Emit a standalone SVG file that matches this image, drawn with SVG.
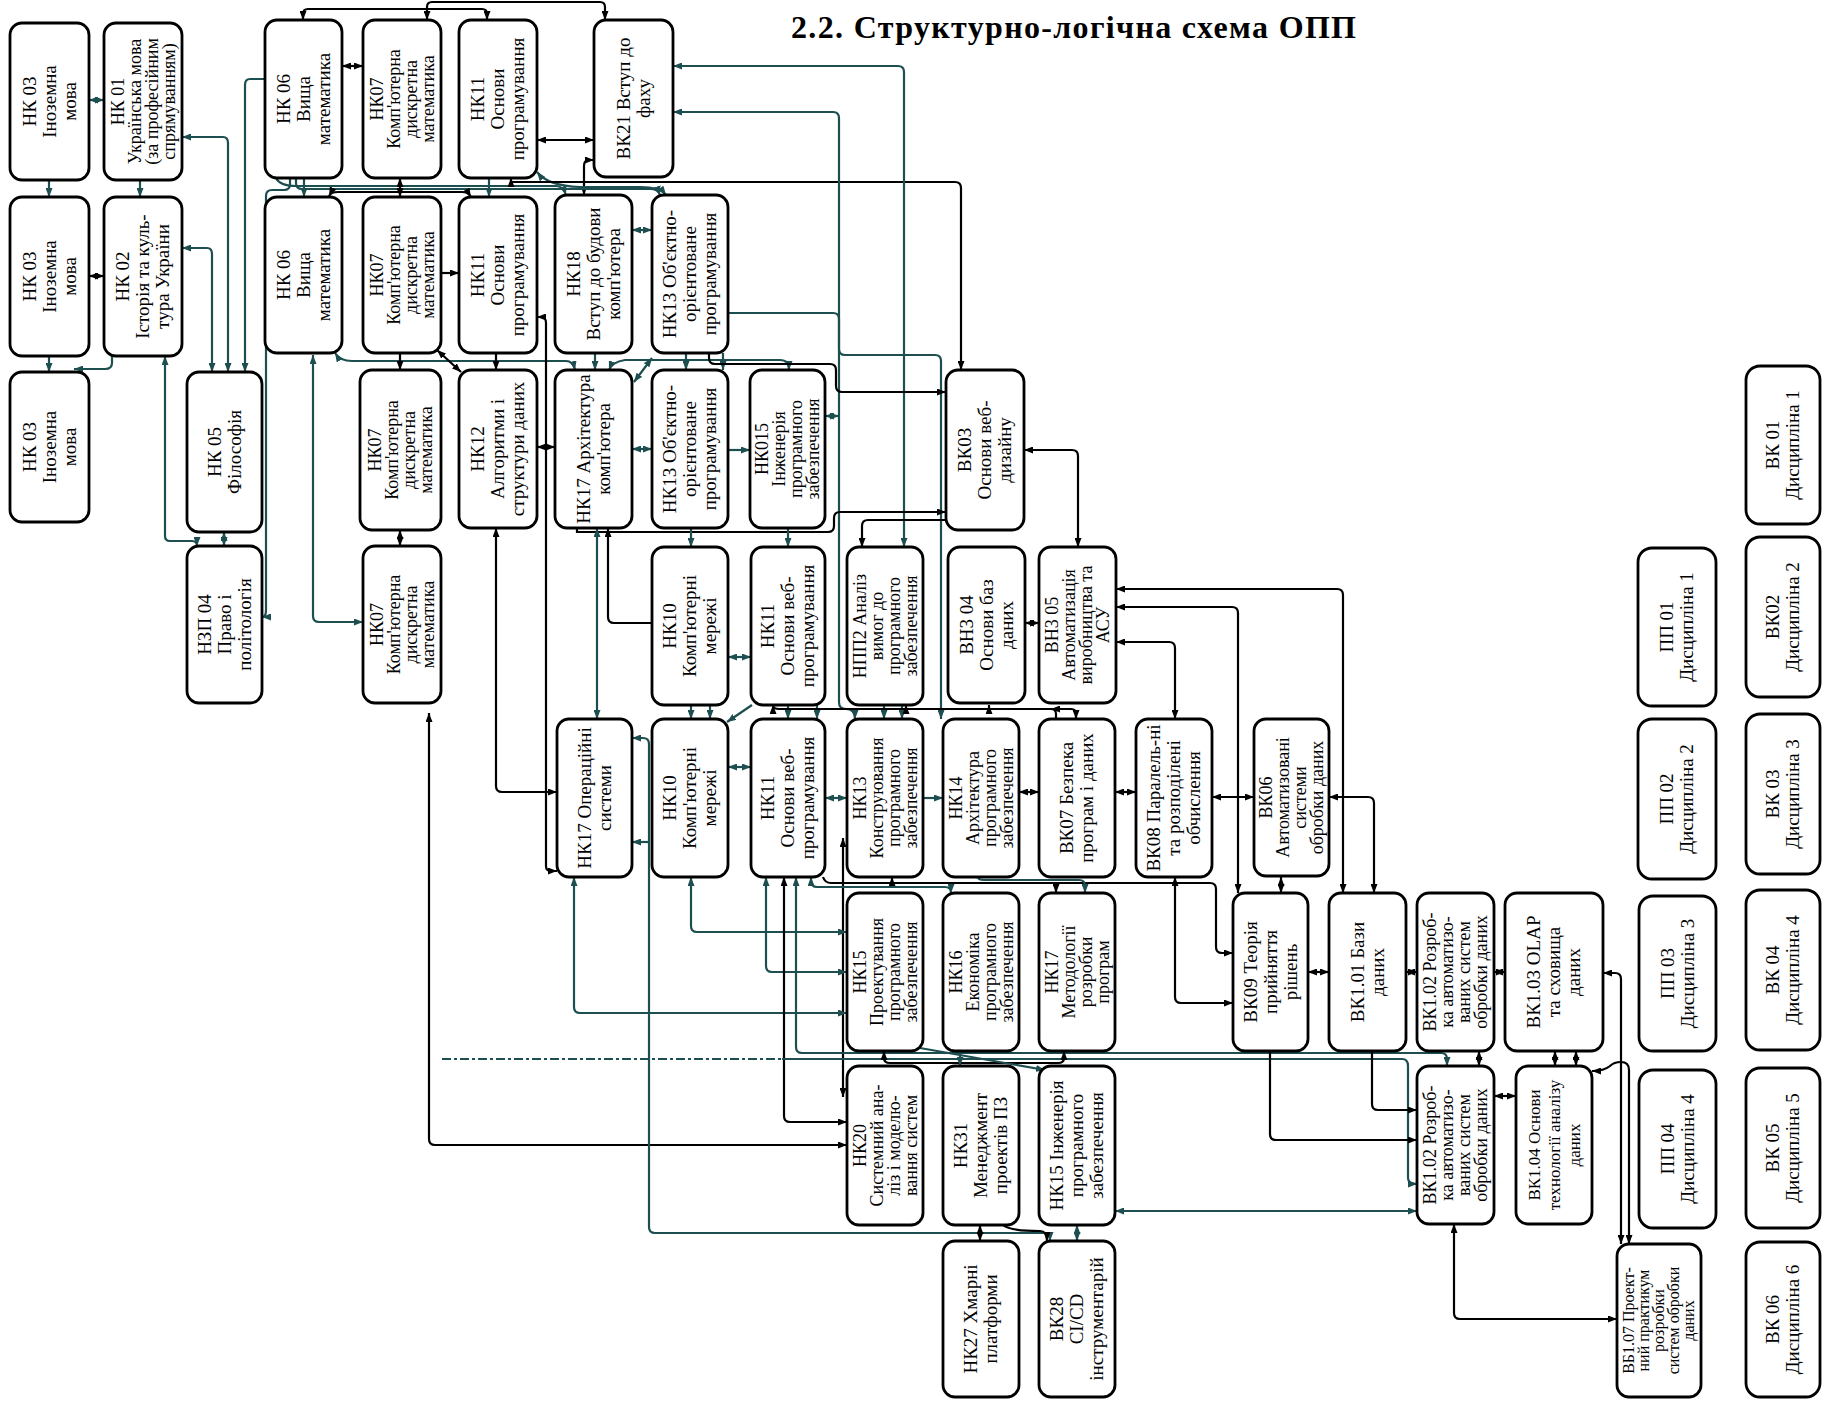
<svg xmlns="http://www.w3.org/2000/svg" width="1825" height="1404" viewBox="0 0 1825 1404">
<style>
.n rect{fill:#fff;stroke:#000;stroke-width:2.8}
.n text{font-family:"Liberation Serif","Times New Roman",serif;font-size:19px;text-anchor:middle;fill:#000}
.n text.s{font-size:18px}
.c path{fill:none;stroke-width:2.2}
.K{stroke:#000;marker-end:url(#ak)}
.KB{stroke:#000;marker-start:url(#ak);marker-end:url(#ak)}
.T{stroke:#1d4e50;marker-end:url(#at)}
.TB{stroke:#1d4e50;marker-start:url(#at);marker-end:url(#at)}
.TD{stroke:#1d4e50;stroke-dasharray:9 3 3 3}
.title{font-family:"Liberation Serif","Times New Roman",serif;font-weight:bold;font-size:32px}
</style>
<defs>
<marker id="ak" markerUnits="userSpaceOnUse" markerWidth="9" markerHeight="7" refX="9" refY="3.5" orient="auto-start-reverse"><path d="M0,0 L9,3.5 L0,7 z" fill="#000"/></marker>
<marker id="at" markerUnits="userSpaceOnUse" markerWidth="9" markerHeight="7" refX="9" refY="3.5" orient="auto-start-reverse"><path d="M0,0 L9,3.5 L0,7 z" fill="#1d4e50"/></marker>
</defs>
<rect width="1825" height="1404" fill="#fff"/>
<text class="title" x="791" y="38" textLength="565">2.2. Структурно-логічна схема ОПП</text>

<g id="connectors" class="c">
<path class="KB" d="M303,20 V14 Q303,9 308,9 H482 Q487,9 487,14 V20"/>
<path class="KB" d="M427,20 V7 Q427,2 432,2 H600 Q605,2 605,7 V20"/>
<path class="KB" d="M342,66 H363"/>
<path class="KB" d="M537,140 H594"/>
<path class="KB" d="M594,160 H589 Q584,160 584,166 V195"/>
<path class="T" d="M49,180 V197"/>
<path class="T" d="M49,356 V372"/>
<path class="TB" d="M89,100 H104"/>
<path class="T" d="M140,180 V197"/>
<path class="KB" d="M89,276 H104"/>
<path class="T" d="M112,356 V363 Q112,369 105,369 H74"/>
<path class="TB" d="M182,137 H223 Q228,137 228,143 V372"/>
<path class="TB" d="M182,248 H207 Q212,248 212,254 V372"/>
<path class="T" d="M265,79 H250 Q245,79 245,85 V372"/>
<path class="T" d="M290,178 V184 Q290,190 284,190 H272 Q266,190 266,196 V610 Q266,617 262,617"/>
<path class="TB" d="M165,356 V536 Q165,541 170,541 H192 Q197,541 197,546"/>
<path class="TB" d="M224,532 V546"/>
<path class="TB" d="M313,355 V616 Q313,622 319,622 H363"/>
<path class="KB" d="M400,530 V546"/>
<path class="KB" d="M429,713 V1139 Q429,1145 435,1145 H847"/>
<path class="T" d="M276,178 Q280,186 296,186 H556 Q563,186 566,195"/>
<path class="T" d="M296,178 V183 Q296,189 302,189 H650 Q658,189 660,195"/>
<path class="TB" d="M537,172 Q548,186 580,187 H640 Q660,187 666,195"/>
<path class="T" d="M304,178 V197"/>
<path class="KB" d="M400,178 V197"/>
<path class="T" d="M489,178 V197"/>
<path class="KB" d="M329,196 Q331,192 338,192 H462 Q468,192 471,197"/>
<path class="K" d="M441,273 H459"/>
<path class="TB" d="M632,230 H652"/>
<path class="KB" d="M511,178 V182 H955 Q961,182 961,188 V370"/>
<path class="TB" d="M673,112 H833 Q839,112 839,118 V702 Q839,709 846,709 Q855,709 855,719"/>
<path class="TB" d="M673,66 H898 Q904,66 904,72 V547"/>
<path class="T" d="M728,313 H833 Q839,313 839,319 V349 Q839,355 845,355 H935 Q941,355 941,361 V719"/>
<path class="TB" d="M825,416 H839"/>
<path class="TB" d="M335,353 Q340,361 352,361 H566 Q573,361 575,370"/>
<path class="K" d="M400,353 V370"/>
<path class="KB" d="M437,350 L461,372"/>
<path class="K" d="M496,353 V370"/>
<path class="T" d="M595,353 V370"/>
<path class="TB" d="M652,358 L634,382"/>
<path class="TB" d="M609,370 Q612,362 625,360 H780 Q789,360 789,370"/>
<path class="T" d="M686,353 V370"/>
<path class="T" d="M723,353 V370"/>
<path class="K" d="M709,353 V358 Q709,364 715,364 H830 Q836,364 836,370 V386 Q836,392 842,392 H946"/>
<path class="KB" d="M537,447 H555"/>
<path class="TB" d="M632,449 H652"/>
<path class="T" d="M728,450 H750"/>
<path class="KB" d="M537,317 H541 Q546,317 546,323 V866 Q546,871 551,871 H557"/>
<path class="KB" d="M496,528 V786 Q496,792 502,792 H557"/>
<path class="K" d="M577,528 V532 H828 Q834,532 834,526 V518 Q834,512 840,512 H946"/>
<path class="K" d="M946,520 H868 Q862,520 862,526 V547"/>
<path class="KB" d="M1024,450 H1072 Q1078,450 1078,456 V547"/>
<path class="TB" d="M597,528 V719"/>
<path class="K" d="M652,623 H614 Q608,623 608,617 V528"/>
<path class="T" d="M691,528 V547"/>
<path class="T" d="M788,528 V547"/>
<path class="TB" d="M728,657 H751"/>
<path class="KB" d="M1025,623 H1039"/>
<path class="KB" d="M1116,589 H1337 Q1343,589 1343,595 V893"/>
<path class="KB" d="M1116,607 H1232 Q1238,607 1238,613 V893"/>
<path class="KB" d="M1116,642 H1169 Q1175,642 1175,648 V719"/>
<path class="T" d="M691,705 V719"/>
<path class="T" d="M710,705 V719"/>
<path class="T" d="M752,705 L727,722"/>
<path class="T" d="M788,705 V719"/>
<path class="T" d="M817,705 V719"/>
<path class="T" d="M884,705 V719"/>
<path class="T" d="M902,705 V719"/>
<path class="KB" d="M1076,719 V714 Q1076,709 1071,709 H779 Q773,709 773,705"/>
<path class="K" d="M1056,719 V714 Q1056,709 1051,709"/>
<path class="K" d="M906,713 V705"/>
<path class="K" d="M989,713 V705"/>
<path class="TB" d="M632,738 H643 Q649,738 649,744 V1227 Q649,1233 655,1233 H1044 Q1050,1233 1050,1241"/>
<path class="T" d="M649,842 H632"/>
<path class="TB" d="M728,767 H751"/>
<path class="TB" d="M825,798 H847"/>
<path class="T" d="M923,798 H943"/>
<path class="KB" d="M1019,792 H1039"/>
<path class="KB" d="M1115,792 H1136"/>
<path class="KB" d="M1212,797 H1254"/>
<path class="KB" d="M1329,797 H1368 Q1374,797 1374,803 V893"/>
<path class="KB" d="M1281,877 V893"/>
<path class="KB" d="M843,838 V1097"/>
<path class="TB" d="M574,877 V1007 Q574,1013 580,1013 H847"/>
<path class="TB" d="M691,877 V926 Q691,932 697,932 H847"/>
<path class="TB" d="M766,877 V966 Q766,972 772,972 H847"/>
<path class="KB" d="M784,877 V1116 Q784,1122 790,1122 H847"/>
<path class="TB" d="M796,877 V1047 Q796,1053 802,1053 H1441 Q1447,1053 1447,1059 V1066"/>
<path class="TB" d="M811,877 V881 Q811,887 817,887 H945 Q951,887 951,893"/>
<path class="K" d="M823,877 Q825,883 831,883 H1210 Q1216,883 1216,889 V947 Q1216,953 1222,953 H1233"/>
<path class="K" d="M1056,883 V893"/>
<path class="K" d="M892,883 V877"/>
<path class="T" d="M978,877 Q978,880 984,880 H1079 Q1085,880 1085,886 V893"/>
<path class="KB" d="M1175,877 V997 Q1175,1003 1181,1003 H1233"/>
<path class="TD" d="M442,1059 H782"/>
<path class="T" d="M782,1059 H1402 Q1408,1059 1408,1066 V1178 Q1408,1184 1417,1184"/>
<path class="KB" d="M1308,972 H1329"/>
<path class="KB" d="M1406,972 H1417"/>
<path class="KB" d="M1494,972 H1505"/>
<path class="KB" d="M1479,1051 V1066"/>
<path class="KB" d="M1555,1051 V1066"/>
<path class="KB" d="M1576,1051 V1066"/>
<path class="KB" d="M1603,973 H1615 Q1621,973 1621,979 V1244"/>
<path class="KB" d="M1592,1071 Q1604,1071 1610,1066 Q1614,1062 1621,1062 Q1629,1062 1629,1070 V1244"/>
<path class="K" d="M1372,1051 V1104 Q1372,1110 1378,1110 H1417"/>
<path class="K" d="M1270,1051 V1134 Q1270,1140 1276,1140 H1417"/>
<path class="KB" d="M884,1051 V1058 Q884,1063 890,1063 H1058 Q1064,1063 1064,1058 V1051"/>
<path class="T" d="M920,1048 L1045,1070"/>
<path class="T" d="M960,1051 V1066"/>
<path class="KB" d="M1494,1096 H1516"/>
<path class="TB" d="M1115,1211 H1417"/>
<path class="KB" d="M1454,1224 V1313 Q1454,1319 1460,1319 H1617"/>
<path class="KB" d="M980,1225 V1241"/>
<path class="TB" d="M1077,1225 V1241"/>
<path class="K" d="M1003,1225 Q1010,1231 1040,1231 Q1047,1231 1047,1241"/>
</g>

<g id="n_nk03a" class="n"><rect x="10" y="23" width="79" height="157" rx="12"/><text transform="translate(49.5,101.5) rotate(-90)"><tspan x="0" y="-14">НК 03</tspan><tspan x="0" y="6">Іноземна</tspan><tspan x="0" y="26">мова</tspan></text></g>
<g id="n_nk01" class="n"><rect x="104" y="23" width="78" height="157" rx="12"/><text class="s" transform="translate(143,101.5) rotate(-90)"><tspan x="0" y="-19.5">НК 01</tspan><tspan x="0" y="-2.5">Українська мова</tspan><tspan x="0" y="14.5">(за професійним</tspan><tspan x="0" y="31.5">спрямуванням)</tspan></text></g>
<g id="n_nk06a" class="n"><rect x="265" y="20" width="77" height="158" rx="12"/><text transform="translate(303.5,99) rotate(-90)"><tspan x="0" y="-14">НК 06</tspan><tspan x="0" y="6">Вища</tspan><tspan x="0" y="26">математика</tspan></text></g>
<g id="n_nk07a" class="n"><rect x="363" y="20" width="78" height="158" rx="12"/><text class="s" transform="translate(402,99) rotate(-90)"><tspan x="0" y="-19.5">НК07</tspan><tspan x="0" y="-2.5">Комп'ютерна</tspan><tspan x="0" y="14.5">дискретна</tspan><tspan x="0" y="31.5">математика</tspan></text></g>
<g id="n_nk11a" class="n"><rect x="459" y="20" width="78" height="158" rx="12"/><text transform="translate(498,99) rotate(-90)"><tspan x="0" y="-14">НК11</tspan><tspan x="0" y="6">Основи</tspan><tspan x="0" y="26">програмування</tspan></text></g>
<g id="n_vk21" class="n"><rect x="594" y="20" width="79" height="157" rx="12"/><text transform="translate(633.5,98.5) rotate(-90)"><tspan x="0" y="-4">ВК21 Вступ до</tspan><tspan x="0" y="16">фаху</tspan></text></g>

<g id="n_nk03b" class="n"><rect x="10" y="197" width="79" height="159" rx="12"/><text transform="translate(49.5,276.5) rotate(-90)"><tspan x="0" y="-14">НК 03</tspan><tspan x="0" y="6">Іноземна</tspan><tspan x="0" y="26">мова</tspan></text></g>
<g id="n_nk02" class="n"><rect x="104" y="197" width="78" height="159" rx="12"/><text transform="translate(143,276.5) rotate(-90)"><tspan x="0" y="-14">НК 02</tspan><tspan x="0" y="6">Історія та куль-</tspan><tspan x="0" y="26">тура України</tspan></text></g>
<g id="n_nk06b" class="n"><rect x="265" y="197" width="77" height="156" rx="12"/><text transform="translate(303.5,275) rotate(-90)"><tspan x="0" y="-14">НК 06</tspan><tspan x="0" y="6">Вища</tspan><tspan x="0" y="26">математика</tspan></text></g>
<g id="n_nk07b" class="n"><rect x="363" y="197" width="78" height="156" rx="12"/><text class="s" transform="translate(402,275) rotate(-90)"><tspan x="0" y="-19.5">НК07</tspan><tspan x="0" y="-2.5">Комп'ютерна</tspan><tspan x="0" y="14.5">дискретна</tspan><tspan x="0" y="31.5">математика</tspan></text></g>
<g id="n_nk11b" class="n"><rect x="459" y="197" width="78" height="156" rx="12"/><text transform="translate(498,275) rotate(-90)"><tspan x="0" y="-14">НК11</tspan><tspan x="0" y="6">Основи</tspan><tspan x="0" y="26">програмування</tspan></text></g>
<g id="n_nk18" class="n"><rect x="555" y="195" width="77" height="158" rx="12"/><text transform="translate(593.5,274) rotate(-90)"><tspan x="0" y="-14">НК18</tspan><tspan x="0" y="6">Вступ до будови</tspan><tspan x="0" y="26">комп'ютера</tspan></text></g>
<g id="n_nk13b" class="n"><rect x="652" y="195" width="76" height="158" rx="12"/><text transform="translate(690,274) rotate(-90)"><tspan x="0" y="-14">НК13 Об'єктно-</tspan><tspan x="0" y="6">орієнтоване</tspan><tspan x="0" y="26">програмування</tspan></text></g>

<g id="n_nk03c" class="n"><rect x="10" y="372" width="79" height="150" rx="12"/><text transform="translate(49.5,447) rotate(-90)"><tspan x="0" y="-14">НК 03</tspan><tspan x="0" y="6">Іноземна</tspan><tspan x="0" y="26">мова</tspan></text></g>
<g id="n_nk05" class="n"><rect x="187" y="372" width="75" height="160" rx="12"/><text transform="translate(224.5,452) rotate(-90)"><tspan x="0" y="-4">НК 05</tspan><tspan x="0" y="16">Філософія</tspan></text></g>
<g id="n_nk07c" class="n"><rect x="360" y="370" width="81" height="160" rx="12"/><text class="s" transform="translate(400.5,450) rotate(-90)"><tspan x="0" y="-19.5">НК07</tspan><tspan x="0" y="-2.5">Комп'ютерна</tspan><tspan x="0" y="14.5">дискретна</tspan><tspan x="0" y="31.5">математика</tspan></text></g>
<g id="n_nk12" class="n"><rect x="459" y="370" width="78" height="158" rx="12"/><text transform="translate(498,449) rotate(-90)"><tspan x="0" y="-14">НК12</tspan><tspan x="0" y="6">Алгоритми і</tspan><tspan x="0" y="26">структури даних</tspan></text></g>
<g id="n_nk17a" class="n"><rect x="555" y="370" width="77" height="158" rx="12"/><text transform="translate(593.5,449) rotate(-90)"><tspan x="0" y="-4">НК17 Архітектура</tspan><tspan x="0" y="16">комп'ютера</tspan></text></g>
<g id="n_nk13c" class="n"><rect x="652" y="370" width="76" height="158" rx="12"/><text transform="translate(690,449) rotate(-90)"><tspan x="0" y="-14">НК13 Об'єктно-</tspan><tspan x="0" y="6">орієнтоване</tspan><tspan x="0" y="26">програмування</tspan></text></g>
<g id="n_nk015" class="n"><rect x="750" y="370" width="75" height="158" rx="12"/><text class="s" transform="translate(787.5,449) rotate(-90)"><tspan x="0" y="-19.5">НК015</tspan><tspan x="0" y="-2.5">Інженерія</tspan><tspan x="0" y="14.5">програмного</tspan><tspan x="0" y="31.5">забезпечення</tspan></text></g>
<g id="n_vk03" class="n"><rect x="946" y="370" width="78" height="160" rx="12"/><text transform="translate(985,450) rotate(-90)"><tspan x="0" y="-14">ВК03</tspan><tspan x="0" y="6">Основи веб-</tspan><tspan x="0" y="26">дизайну</tspan></text></g>

<g id="n_nzp04" class="n"><rect x="187" y="546" width="75" height="157" rx="12"/><text transform="translate(224.5,624.5) rotate(-90)"><tspan x="0" y="-14">НЗП 04</tspan><tspan x="0" y="6">Право і</tspan><tspan x="0" y="26">політологія</tspan></text></g>
<g id="n_nk07d" class="n"><rect x="363" y="546" width="78" height="157" rx="12"/><text class="s" transform="translate(402,624.5) rotate(-90)"><tspan x="0" y="-19.5">НК07</tspan><tspan x="0" y="-2.5">Комп'ютерна</tspan><tspan x="0" y="14.5">дискретна</tspan><tspan x="0" y="31.5">математика</tspan></text></g>
<g id="n_nk10d" class="n"><rect x="652" y="547" width="76" height="158" rx="12"/><text transform="translate(690,626) rotate(-90)"><tspan x="0" y="-14">НК10</tspan><tspan x="0" y="6">Комп'ютерні</tspan><tspan x="0" y="26">мережі</tspan></text></g>
<g id="n_nk11d" class="n"><rect x="751" y="547" width="74" height="158" rx="12"/><text transform="translate(788,626) rotate(-90)"><tspan x="0" y="-14">НК11</tspan><tspan x="0" y="6">Основи веб-</tspan><tspan x="0" y="26">програмування</tspan></text></g>
<g id="n_npp2" class="n"><rect x="847" y="547" width="76" height="158" rx="12"/><text class="s" transform="translate(885,626) rotate(-90)"><tspan x="0" y="-19.5">НПП2 Аналіз</tspan><tspan x="0" y="-2.5">вимог до</tspan><tspan x="0" y="14.5">програмного</tspan><tspan x="0" y="31.5">забезпечення</tspan></text></g>
<g id="n_vn304" class="n"><rect x="948" y="547" width="77" height="156" rx="12"/><text transform="translate(986.5,625) rotate(-90)"><tspan x="0" y="-14">ВН3 04</tspan><tspan x="0" y="6">Основи баз</tspan><tspan x="0" y="26">даних</tspan></text></g>
<g id="n_vn305" class="n"><rect x="1039" y="547" width="77" height="156" rx="12"/><text class="s" transform="translate(1077.5,625) rotate(-90)"><tspan x="0" y="-19.5">ВН3 05</tspan><tspan x="0" y="-2.5">Автоматизація</tspan><tspan x="0" y="14.5">виробництва та</tspan><tspan x="0" y="31.5">АСУ</tspan></text></g>

<g id="n_nk17os" class="n"><rect x="557" y="719" width="75" height="158" rx="12"/><text transform="translate(594.5,798) rotate(-90)"><tspan x="0" y="-4">НК17 Операційні</tspan><tspan x="0" y="16">системи</tspan></text></g>
<g id="n_nk10e" class="n"><rect x="652" y="719" width="76" height="158" rx="12"/><text transform="translate(690,798) rotate(-90)"><tspan x="0" y="-14">НК10</tspan><tspan x="0" y="6">Комп'ютерні</tspan><tspan x="0" y="26">мережі</tspan></text></g>
<g id="n_nk11e" class="n"><rect x="751" y="719" width="74" height="158" rx="12"/><text transform="translate(788,798) rotate(-90)"><tspan x="0" y="-14">НК11</tspan><tspan x="0" y="6">Основи веб-</tspan><tspan x="0" y="26">програмування</tspan></text></g>
<g id="n_nk13e" class="n"><rect x="847" y="719" width="76" height="158" rx="12"/><text class="s" transform="translate(885,798) rotate(-90)"><tspan x="0" y="-19.5">НК13</tspan><tspan x="0" y="-2.5">Конструювання</tspan><tspan x="0" y="14.5">програмного</tspan><tspan x="0" y="31.5">забезпечення</tspan></text></g>
<g id="n_nk14" class="n"><rect x="943" y="719" width="76" height="158" rx="12"/><text class="s" transform="translate(981,798) rotate(-90)"><tspan x="0" y="-19.5">НК14</tspan><tspan x="0" y="-2.5">Архітектура</tspan><tspan x="0" y="14.5">програмного</tspan><tspan x="0" y="31.5">забезпечення</tspan></text></g>
<g id="n_vk07" class="n"><rect x="1039" y="719" width="76" height="158" rx="12"/><text transform="translate(1077,798) rotate(-90)"><tspan x="0" y="-4">ВК07 Безпека</tspan><tspan x="0" y="16">програм і даних</tspan></text></g>
<g id="n_vk08" class="n"><rect x="1136" y="719" width="76" height="158" rx="12"/><text transform="translate(1174,798) rotate(-90)"><tspan x="0" y="-14">ВК08 Паралель-ні</tspan><tspan x="0" y="6">та розподілені</tspan><tspan x="0" y="26">обчислення</tspan></text></g>
<g id="n_vk06" class="n"><rect x="1254" y="719" width="75" height="157" rx="12"/><text class="s" transform="translate(1291.5,797.5) rotate(-90)"><tspan x="0" y="-19.5">ВК06</tspan><tspan x="0" y="-2.5">Автоматизовані</tspan><tspan x="0" y="14.5">системи</tspan><tspan x="0" y="31.5">обробки даних</tspan></text></g>

<g id="n_nk15f" class="n"><rect x="847" y="893" width="76" height="158" rx="12"/><text class="s" transform="translate(885,972) rotate(-90)"><tspan x="0" y="-19.5">НК15</tspan><tspan x="0" y="-2.5">Проектування</tspan><tspan x="0" y="14.5">програмного</tspan><tspan x="0" y="31.5">забезпечення</tspan></text></g>
<g id="n_nk16" class="n"><rect x="943" y="893" width="76" height="158" rx="12"/><text class="s" transform="translate(981,972) rotate(-90)"><tspan x="0" y="-19.5">НК16</tspan><tspan x="0" y="-2.5">Економіка</tspan><tspan x="0" y="14.5">програмного</tspan><tspan x="0" y="31.5">забезпечення</tspan></text></g>
<g id="n_nk17f" class="n"><rect x="1039" y="893" width="76" height="158" rx="12"/><text class="s" transform="translate(1077,972) rotate(-90)"><tspan x="0" y="-19.5">НК17</tspan><tspan x="0" y="-2.5">Методології</tspan><tspan x="0" y="14.5">розробки</tspan><tspan x="0" y="31.5">програм</tspan></text></g>
<g id="n_vk09" class="n"><rect x="1233" y="893" width="75" height="158" rx="12"/><text transform="translate(1270.5,972) rotate(-90)"><tspan x="0" y="-14">ВК09 Теорія</tspan><tspan x="0" y="6">прийняття</tspan><tspan x="0" y="26">рішень</tspan></text></g>
<g id="n_vk101" class="n"><rect x="1329" y="893" width="77" height="158" rx="12"/><text transform="translate(1367.5,972) rotate(-90)"><tspan x="0" y="-4">ВК1.01 Бази</tspan><tspan x="0" y="16">даних</tspan></text></g>
<g id="n_vk102a" class="n"><rect x="1417" y="893" width="77" height="158" rx="12"/><text class="s" transform="translate(1455.5,972) rotate(-90)"><tspan x="0" y="-19.5">ВК1.02 Розроб-</tspan><tspan x="0" y="-2.5">ка автоматизо-</tspan><tspan x="0" y="14.5">ваних систем</tspan><tspan x="0" y="31.5">обробки даних</tspan></text></g>
<g id="n_vk103" class="n"><rect x="1505" y="893" width="98" height="158" rx="12"/><text transform="translate(1554,972) rotate(-90)"><tspan x="0" y="-14">ВК1.03 OLAP</tspan><tspan x="0" y="6">та сховища</tspan><tspan x="0" y="26">даних</tspan></text></g>

<g id="n_nk20" class="n"><rect x="847" y="1066" width="76" height="159" rx="12"/><text class="s" transform="translate(885,1145.5) rotate(-90)"><tspan x="0" y="-19.5">НК20</tspan><tspan x="0" y="-2.5">Системний ана-</tspan><tspan x="0" y="14.5">ліз і моделю-</tspan><tspan x="0" y="31.5">вання систем</tspan></text></g>
<g id="n_nk31" class="n"><rect x="943" y="1066" width="76" height="159" rx="12"/><text transform="translate(981,1145.5) rotate(-90)"><tspan x="0" y="-14">НК31</tspan><tspan x="0" y="6">Менеджмент</tspan><tspan x="0" y="26">проектів ПЗ</tspan></text></g>
<g id="n_nk15g" class="n"><rect x="1039" y="1066" width="76" height="159" rx="12"/><text transform="translate(1077,1145.5) rotate(-90)"><tspan x="0" y="-14">НК15 Інженерія</tspan><tspan x="0" y="6">програмного</tspan><tspan x="0" y="26">забезпечення</tspan></text></g>
<g id="n_vk102b" class="n"><rect x="1417" y="1066" width="77" height="158" rx="12"/><text class="s" transform="translate(1455.5,1145) rotate(-90)"><tspan x="0" y="-19.5">ВК1.02 Розроб-</tspan><tspan x="0" y="-2.5">ка автоматизо-</tspan><tspan x="0" y="14.5">ваних систем</tspan><tspan x="0" y="31.5">обробки даних</tspan></text></g>
<g id="n_vk104" class="n"><rect x="1516" y="1066" width="76" height="158" rx="12"/><text transform="translate(1554,1145) rotate(-90)" style="font-size:17px"><tspan x="0" y="-14">ВК1.04 Основи</tspan><tspan x="0" y="6">технології аналізу</tspan><tspan x="0" y="26">даних</tspan></text></g>

<g id="n_nk27" class="n"><rect x="943" y="1241" width="76" height="156" rx="12"/><text transform="translate(981,1319) rotate(-90)"><tspan x="0" y="-4">НК27 Хмарні</tspan><tspan x="0" y="16">платформи</tspan></text></g>
<g id="n_vk28" class="n"><rect x="1039" y="1241" width="76" height="156" rx="12"/><text transform="translate(1077,1319) rotate(-90)"><tspan x="0" y="-14">ВК28</tspan><tspan x="0" y="6">CI/CD</tspan><tspan x="0" y="26">інструментарій</tspan></text></g>
<g id="n_vb107" class="n"><rect x="1617" y="1244" width="84" height="153" rx="12"/><text transform="translate(1659,1320.5) rotate(-90)" style="font-size:16px"><tspan x="0" y="-25">ВБ1.07 Проект-</tspan><tspan x="0" y="-10">ний практикум</tspan><tspan x="0" y="5">розробки</tspan><tspan x="0" y="20">систем обробки</tspan><tspan x="0" y="35">даних</tspan></text></g>

<g id="n_pp01" class="n"><rect x="1638" y="548" width="78" height="158" rx="14"/><text transform="translate(1677,627) rotate(-90)"><tspan x="0" y="-4">ПП 01</tspan><tspan x="0" y="16">Дисципліна 1</tspan></text></g>
<g id="n_pp02" class="n"><rect x="1638" y="719" width="78" height="160" rx="14"/><text transform="translate(1677,799) rotate(-90)"><tspan x="0" y="-4">ПП 02</tspan><tspan x="0" y="16">Дисципліна 2</tspan></text></g>
<g id="n_pp03" class="n"><rect x="1639" y="896" width="77" height="155" rx="14"/><text transform="translate(1677.5,973.5) rotate(-90)"><tspan x="0" y="-4">ПП 03</tspan><tspan x="0" y="16">Дисципліна 3</tspan></text></g>
<g id="n_pp04" class="n"><rect x="1639" y="1070" width="77" height="158" rx="14"/><text transform="translate(1677.5,1149) rotate(-90)"><tspan x="0" y="-4">ПП 04</tspan><tspan x="0" y="16">Дисципліна 4</tspan></text></g>

<g id="n_vk01r" class="n"><rect x="1746" y="366" width="74" height="158" rx="14"/><text transform="translate(1783,445) rotate(-90)"><tspan x="0" y="-4">ВК 01</tspan><tspan x="0" y="16">Дисципліна 1</tspan></text></g>
<g id="n_vk02r" class="n"><rect x="1746" y="537" width="74" height="160" rx="14"/><text transform="translate(1783,617) rotate(-90)"><tspan x="0" y="-4">ВК02</tspan><tspan x="0" y="16">Дисципліна 2</tspan></text></g>
<g id="n_vk03r" class="n"><rect x="1746" y="714" width="74" height="160" rx="14"/><text transform="translate(1783,794) rotate(-90)"><tspan x="0" y="-4">ВК 03</tspan><tspan x="0" y="16">Дисципліна 3</tspan></text></g>
<g id="n_vk04r" class="n"><rect x="1746" y="890" width="74" height="160" rx="14"/><text transform="translate(1783,970) rotate(-90)"><tspan x="0" y="-4">ВК 04</tspan><tspan x="0" y="16">Дисципліна 4</tspan></text></g>
<g id="n_vk05r" class="n"><rect x="1746" y="1068" width="74" height="160" rx="14"/><text transform="translate(1783,1148) rotate(-90)"><tspan x="0" y="-4">ВК 05</tspan><tspan x="0" y="16">Дисципліна 5</tspan></text></g>
<g id="n_vk06r" class="n"><rect x="1746" y="1242" width="74" height="155" rx="14"/><text transform="translate(1783,1319.5) rotate(-90)"><tspan x="0" y="-4">ВК 06</tspan><tspan x="0" y="16">Дисципліна 6</tspan></text></g>
</svg>
